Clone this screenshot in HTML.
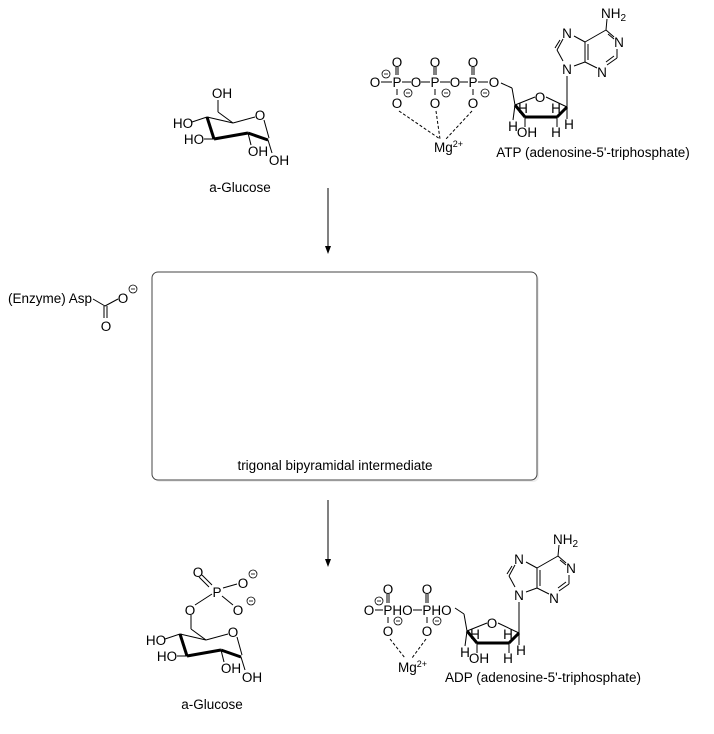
<!DOCTYPE html>
<html><head><meta charset="utf-8"><style>
html,body{margin:0;padding:0;background:#fff;}
svg{display:block;font-family:"Liberation Sans",Arial,sans-serif;}
text{font-size:13.5px;fill:#000;}
.c{text-anchor:middle;}
</style></head><body>
<svg width="714" height="734" viewBox="0 0 714 734" xmlns="http://www.w3.org/2000/svg">
<defs>
<g id="glc">
  <line x1="218" y1="100" x2="218" y2="112" stroke="#000"/>
  <line x1="218" y1="112" x2="233" y2="123" stroke="#000"/>
  <line x1="207" y1="117" x2="233" y2="123" stroke="#000"/>
  <line x1="233" y1="123" x2="255" y2="117" stroke="#000"/>
  <line x1="264" y1="120" x2="269" y2="138" stroke="#000"/>
  <line x1="207" y1="117" x2="192" y2="122" stroke="#000"/>
  <line x1="207" y1="117" x2="214" y2="139" stroke="#000" stroke-width="3"/>
  <line x1="214" y1="139" x2="248" y2="133" stroke="#000" stroke-width="3"/>
  <line x1="248" y1="133" x2="268" y2="140" stroke="#000" stroke-width="3"/>
  <line x1="214" y1="139" x2="204" y2="139" stroke="#000"/>
  <line x1="248" y1="133" x2="251" y2="145" stroke="#000"/>
  <line x1="268" y1="140" x2="272" y2="153" stroke="#000"/>
  <text x="260" y="120" class="c">O</text>
  <text x="183" y="128" class="c">HO</text>
  <text x="194" y="144" class="c">HO</text>
  <text x="258" y="156" class="c">OH</text>
  <text x="279" y="165" class="c">OH</text>
</g>
<g id="nuc">
  <line x1="512" y1="88" x2="515" y2="105" stroke="#000"/>
  <line x1="515" y1="105" x2="535" y2="97" stroke="#000"/>
  <line x1="546" y1="97" x2="567" y2="107" stroke="#000"/>
  <line x1="515" y1="105" x2="525" y2="117" stroke="#000" stroke-width="3"/>
  <line x1="525" y1="117" x2="557" y2="117" stroke="#000" stroke-width="3"/>
  <line x1="557" y1="117" x2="567" y2="107" stroke="#000" stroke-width="3"/>
  <line x1="515" y1="105" x2="513" y2="120" stroke="#000"/>
  <line x1="525" y1="117" x2="525" y2="127" stroke="#000"/>
  <line x1="557" y1="117" x2="557" y2="127" stroke="#000"/>
  <line x1="567" y1="107" x2="567" y2="119" stroke="#000"/>
  <line x1="567" y1="107" x2="567" y2="76" stroke="#000"/>
  <text x="540" y="102" class="c">O</text>
  <text x="523" y="113" class="c">H</text>
  <text x="556" y="113" class="c">H</text>
  <text x="513" y="131" class="c">H</text>
  <text x="527" y="137" class="c">OH</text>
  <text x="556" y="137" class="c">H</text>
  <text x="569" y="129" class="c">H</text>
  <line x1="585" y1="42" x2="585" y2="62" stroke="#000"/>
  <line x1="588" y1="44" x2="588" y2="60" stroke="#000"/>
  <line x1="585" y1="42" x2="606" y2="30" stroke="#000"/>
  <line x1="606" y1="30" x2="614" y2="37" stroke="#000"/>
  <line x1="608" y1="34" x2="614" y2="39" stroke="#000"/>
  <line x1="606" y1="30" x2="607" y2="19" stroke="#000"/>
  <line x1="617" y1="49" x2="617" y2="58" stroke="#000"/>
  <line x1="617" y1="58" x2="607" y2="65" stroke="#000"/>
  <line x1="614" y1="56" x2="606" y2="62" stroke="#000"/>
  <line x1="597" y1="68" x2="585" y2="62" stroke="#000"/>
  <line x1="585" y1="42" x2="574" y2="36" stroke="#000"/>
  <line x1="585" y1="62" x2="574" y2="66" stroke="#000"/>
  <line x1="563" y1="39" x2="557" y2="50" stroke="#000"/>
  <line x1="560" y1="40" x2="555" y2="48" stroke="#000"/>
  <line x1="557" y1="50" x2="563" y2="61" stroke="#000"/>
  <text x="567" y="38" class="c">N</text>
  <text x="619" y="47" class="c">N</text>
  <text x="602" y="77" class="c">N</text>
  <text x="567" y="74" class="c">N</text>
  <text x="601" y="18">NH<tspan font-size="10" dy="3">2</tspan></text>
</g>
</defs>

<use href="#glc"/>
<text x="222" y="98" class="c">OH</text>
<text x="240" y="192" class="c">a-Glucose</text>

<use href="#nuc"/>
<line x1="501" y1="83" x2="512" y2="88" stroke="#000"/>
<text x="375" y="87" class="c">O</text>
<text x="397" y="87" class="c">P</text>
<text x="416" y="87" class="c">O</text>
<text x="435" y="87" class="c">P</text>
<text x="455" y="87" class="c">O</text>
<text x="473" y="87" class="c">P</text>
<text x="494" y="87" class="c">O</text>
<g stroke="#000">
<line x1="381" y1="82" x2="392" y2="82"/><line x1="402" y1="82" x2="411" y2="82"/>
<line x1="421" y1="82" x2="430" y2="82"/><line x1="440" y1="82" x2="450" y2="82"/>
<line x1="460" y1="82" x2="468" y2="82"/><line x1="478" y1="82" x2="488" y2="82"/>
<line x1="396" y1="67" x2="396" y2="75"/><line x1="398" y1="67" x2="398" y2="75"/>
<line x1="434" y1="67" x2="434" y2="75"/><line x1="436" y1="67" x2="436" y2="75"/>
<line x1="472" y1="67" x2="472" y2="75"/><line x1="474" y1="67" x2="474" y2="75"/>
<line x1="397" y1="89" x2="397" y2="95"/><line x1="435" y1="89" x2="435" y2="95"/><line x1="473" y1="89" x2="473" y2="95"/>
</g>
<text x="397" y="67" class="c">O</text><text x="435" y="67" class="c">O</text><text x="473" y="67" class="c">O</text>
<text x="397" y="108" class="c">O</text><text x="435" y="108" class="c">O</text><text x="473" y="108" class="c">O</text>
<g fill="none" stroke="#000" stroke-width="0.8">
<circle cx="386" cy="74" r="4"/><line x1="384" y1="74" x2="388" y2="74"/>
<circle cx="408" cy="93" r="4"/><line x1="406" y1="93" x2="410" y2="93"/>
<circle cx="446" cy="93" r="4"/><line x1="444" y1="93" x2="448" y2="93"/>
<circle cx="485" cy="93" r="4"/><line x1="483" y1="93" x2="487" y2="93"/>
</g>
<g stroke="#000" stroke-dasharray="3,2">
<line x1="399" y1="111" x2="440" y2="139"/><line x1="436" y1="111" x2="440" y2="139"/><line x1="472" y1="111" x2="446" y2="139"/>
</g>
<text x="434" y="152">Mg<tspan font-size="9" dy="-5">2+</tspan></text>
<text x="593" y="157" class="c">ATP (adenosine-5'-triphosphate)</text>

<line x1="328" y1="188" x2="328" y2="248" stroke="#000"/>
<polygon points="325,246 331,246 328,254" fill="#000"/>
<line x1="328" y1="500" x2="328" y2="561" stroke="#000"/>
<polygon points="325,559 331,559 328,567" fill="#000"/>

<text x="8" y="303">(Enzyme) Asp</text>
<line x1="93" y1="299" x2="105" y2="306" stroke="#000"/>
<line x1="105" y1="306" x2="118" y2="299" stroke="#000"/>
<line x1="104" y1="306" x2="104" y2="318" stroke="#000"/>
<line x1="107" y1="306" x2="107" y2="318" stroke="#000"/>
<text x="123" y="303" class="c">O</text>
<text x="106" y="331" class="c">O</text>
<g fill="none" stroke="#000" stroke-width="0.8"><circle cx="133" cy="289" r="4"/><line x1="131" y1="289" x2="135" y2="289"/></g>

<rect x="154" y="274" width="385" height="208" rx="6" fill="#eee"/>
<rect x="152" y="272" width="385" height="208" rx="6" fill="#fff" stroke="#444"/>
<text x="335" y="470" class="c">trigonal bipyramidal intermediate</text>

<use href="#glc" transform="translate(-27,517)"/>
<line x1="191" y1="615" x2="191" y2="629" stroke="#000"/>
<line x1="195" y1="605" x2="212" y2="594" stroke="#000"/>
<line x1="202" y1="575" x2="212" y2="585" stroke="#000"/>
<line x1="199" y1="577" x2="209" y2="587" stroke="#000"/>
<line x1="223" y1="588" x2="237" y2="584" stroke="#000"/>
<line x1="222" y1="596" x2="233" y2="605" stroke="#000"/>
<text x="190" y="615" class="c">O</text>
<text x="217" y="597" class="c">P</text>
<text x="198" y="577" class="c">O</text>
<text x="243" y="588" class="c">O</text>
<text x="238" y="615" class="c">O</text>
<g fill="none" stroke="#000" stroke-width="0.8">
<circle cx="253" cy="574" r="4"/><line x1="251" y1="574" x2="255" y2="574"/>
<circle cx="251" cy="601" r="4"/><line x1="249" y1="601" x2="253" y2="601"/>
</g>
<text x="212" y="709" class="c">a-Glucose</text>

<use href="#nuc" transform="translate(-48,526)"/>
<line x1="455" y1="608" x2="464" y2="614" stroke="#000"/>
<text x="369" y="615" class="c">O</text>
<text x="398" y="615" class="c">PHO</text>
<text x="437" y="615" class="c">PHO</text>
<g stroke="#000">
<line x1="375" y1="610" x2="383" y2="610"/><line x1="413" y1="610" x2="422" y2="610"/>
<line x1="387" y1="594" x2="387" y2="603"/><line x1="389" y1="594" x2="389" y2="603"/>
<line x1="426" y1="594" x2="426" y2="603"/><line x1="428" y1="594" x2="428" y2="603"/>
<line x1="388" y1="617" x2="388" y2="623"/><line x1="427" y1="617" x2="427" y2="623"/>
</g>
<text x="388" y="594" class="c">O</text><text x="427" y="594" class="c">O</text>
<text x="388" y="636" class="c">O</text><text x="427" y="636" class="c">O</text>
<g fill="none" stroke="#000" stroke-width="0.8">
<circle cx="379" cy="601" r="4"/><line x1="377" y1="601" x2="381" y2="601"/>
<circle cx="398" cy="621" r="4"/><line x1="396" y1="621" x2="400" y2="621"/>
<circle cx="437" cy="621" r="4"/><line x1="435" y1="621" x2="439" y2="621"/>
</g>
<g stroke="#000" stroke-dasharray="3,2">
<line x1="390" y1="639" x2="405" y2="658"/><line x1="426" y1="639" x2="412" y2="658"/>
</g>
<text x="398" y="672">Mg<tspan font-size="9" dy="-5">2+</tspan></text>
<text x="543" y="682" class="c">ADP (adenosine-5'-triphosphate)</text>
</svg>
</body></html>
